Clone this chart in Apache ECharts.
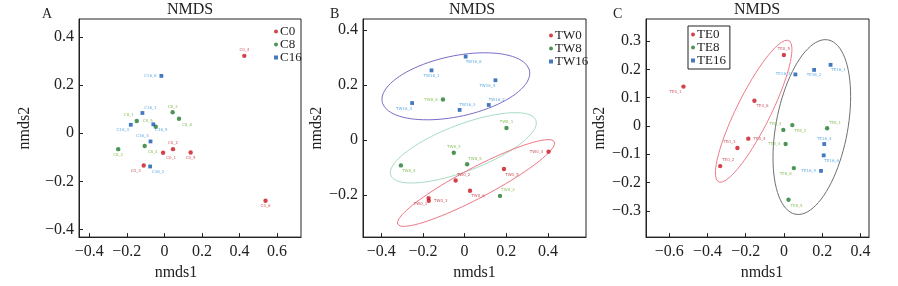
<!DOCTYPE html>
<html>
<head>
<meta charset="utf-8">
<script src="https://cdn.jsdelivr.net/npm/echarts@6/dist/echarts.min.js"></script>
<style>
    html, body {margin: 0; padding: 0; background: #fff;}
    #chart {width: 898px; height: 286px;}
</style>
</head>
<body>
<div id="chart"></div>
<script>
// ---- data: [nmds1, nmds2, sample] ----
var C0  = [[-0.007, -0.081, 'C0_1'], [0.046, -0.066, 'C0_2'], [-0.110, -0.134, 'C0_3'],
           [0.426, 0.321, 'C0_4'], [0.140, -0.080, 'C0_5'], [0.539, -0.280, 'C0_6']];
var C8  = [[-0.147, 0.051, 'C8_1'], [-0.246, -0.066, 'C8_2'], [0.044, 0.087, 'C8_3'],
           [-0.105, -0.053, 'C8_4'], [-0.046, 0.027, 'C8_5'], [0.078, 0.060, 'C8_6']];
var C16 = [[-0.117, 0.084, 'C16_1'], [-0.076, -0.138, 'C16_2'], [-0.179, 0.035, 'C16_3'],
           [-0.074, -0.034, 'C16_4'], [-0.059, 0.037, 'C16_5'], [-0.016, 0.238, 'C16_6']];

var TW0  = [[-0.173, -0.211, 'TW0_1'], [-0.043, -0.147, 'TW0_2'], [-0.172, -0.221, 'TW0_3'],
            [0.403, -0.042, 'TW0_4'], [0.189, -0.105, 'TW0_5'], [0.026, -0.184, 'TW0_6']];
var TW8  = [[0.201, 0.044, 'TW8_1'], [0.170, -0.203, 'TW8_2'], [-0.052, -0.046, 'TW8_3'],
            [-0.306, -0.092, 'TW8_4'], [0.012, -0.088, 'TW8_5'], [-0.104, 0.148, 'TW8_6']];
var TW16 = [[-0.159, 0.254, 'TW16_1'], [0.116, 0.128, 'TW16_2'], [-0.024, 0.110, 'TW16_3'],
            [-0.252, 0.135, 'TW16_4'], [0.148, 0.218, 'TW16_5'], [0.005, 0.304, 'TW16_6']];

var TE0  = [[-0.525, 0.139, 'TE0_1'], [-0.333, -0.142, 'TE0_2'], [-0.243, -0.078, 'TE0_3'],
            [-0.186, -0.045, 'TE0_4'], [0.000, 0.251, 'TE0_5'], [-0.154, 0.089, 'TE0_6']];
var TE8  = [[0.226, -0.008, 'TE8_1'], [0.044, 0.003, 'TE8_2'], [-0.003, -0.014, 'TE8_3'],
            [0.009, -0.064, 'TE8_4'], [0.024, -0.261, 'TE8_5'], [0.052, -0.149, 'TE8_6']];
var TE16 = [[0.244, 0.216, 'TE16_1'], [0.158, 0.198, 'TE16_2'], [0.060, 0.182, 'TE16_3'],
            [0.211, -0.064, 'TE16_4'], [0.194, -0.159, 'TE16_5'], [0.208, -0.104, 'TE16_6']];

// confidence ellipses: [cx, cy, sd1, sd2, r]
var ellTW16 = [-0.042, 0.196, 0.355, 0.122, 0.39];
var ellTW8  = [-0.006, -0.028, 0.351, 0.128, 0.71];
var ellTW0  = [0.055, -0.156, 0.378, 0.158, 0.92];
var ellTE0  = [-0.158, 0.052, 0.200, 0.251, 0.87];
var ellTE8  = [0.146, -0.004, 0.203, 0.309, 0.35];

// tick values
var ticksAx = [-0.4, -0.2, 0, 0.2, 0.4, 0.6];
var ticksAy = [-0.4, -0.2, 0, 0.2, 0.4];
var ticksBx = [-0.4, -0.2, 0, 0.2, 0.4];
var ticksBy = [-0.2, 0, 0.2, 0.4];
var ticksCx = [-0.6, -0.4, -0.2, 0, 0.2, 0.4];
var ticksCy = [-0.3, -0.2, -0.1, 0, 0.1, 0.2, 0.3];

// label placement of each sample (style only)
var labelPlace = {
    C0_1: 'br', C0_2: 'top', C0_3: 'bl', C0_4: 'top', C0_5: 'bottom', C0_6: 'bottom',
    C8_1: 'tl', C8_2: 'bottom', C8_3: 'top', C8_4: 'br', C8_5: 'tl', C8_6: 'br',
    C16_1: 'tr', C16_2: 'br', C16_3: 'bl', C16_4: 'tl', C16_5: 'br', C16_6: 'left',
    TW0_1: 'bl', TW0_2: 'tr', TW0_3: 'right', TW0_4: 'left', TW0_5: 'br', TW0_6: 'br',
    TW8_1: 'top', TW8_2: 'tr', TW8_3: 'top', TW8_4: 'br', TW8_5: 'tr', TW8_6: 'left',
    TW16_1: 'bottom', TW16_2: 'tr', TW16_3: 'tr', TW16_4: 'bl', TW16_5: 'bl', TW16_6: 'br',
    TE0_1: 'bl', TE0_2: 'tr', TE0_3: 'tl', TE0_4: 'right', TE0_5: 'top', TE0_6: 'br',
    TE8_1: 'tr', TE8_2: 'br', TE8_3: 'tl', TE8_4: 'left', TE8_5: 'br', TE8_6: 'bl',
    TE16_1: 'br', TE16_2: 'bottom', TE16_3: 'left', TE16_4: 'top', TE16_5: 'left', TE16_6: 'br'
};

var SERIF = 'Liberation Serif';
var RED = '#c8141e', GREEN = '#1f7a2a', BLUE = '#1558b0';
var RED_T = '#c0303c', GREEN_T = '#74b43c', BLUE_T = '#3b98dc';

function fmt(v) {
    return v < 0 ? '\u2212' + Math.abs(v) : String(v);
}

function toItems(arr) {
    return arr.map(function (p) {
        var pl = labelPlace[p[2]] || 'top';
        var pos = 'top', off = [0, 0], dist = 1.5;
        if (pl === 'bottom') pos = 'bottom';
        if (pl === 'left') {pos = 'left'; dist = 3;}
        if (pl === 'right') {pos = 'right'; dist = 3;}
        if (pl === 'tl') {off = [-8, 0];}
        if (pl === 'tr') {off = [8, 0];}
        if (pl === 'bl') {pos = 'bottom'; off = [-8, 0];}
        if (pl === 'br') {pos = 'bottom'; off = [8, 0];}
        return {value: [p[0], p[1]], name: p[2], label: {position: pos, offset: off, distance: dist}};
    });
}

function ellipse(e) {
    var pts = [];
    for (var i = 0; i <= 90; i++) {
        var t = i / 90 * Math.PI * 2;
        pts.push([e[0] + e[2] * Math.cos(t),
                  e[1] + e[4] * e[3] * Math.cos(t) + e[3] * Math.sqrt(1 - e[4] * e[4]) * Math.sin(t)]);
    }
    return pts;
}

function pts(name, arr, idx, sym, color, tcolor) {
    return {
        name: name, type: 'scatter', xAxisIndex: idx, yAxisIndex: idx,
        symbol: sym, symbolSize: sym === 'rect' ? 3.8 : 4.4,
        itemStyle: {color: color},
        label: {show: true, formatter: '{b}', fontSize: 4, color: tcolor, fontFamily: 'DejaVu Sans'},
        data: toItems(arr), z: 5
    };
}

function ell(name, e, idx, color) {
    return {
        name: name, type: 'line', xAxisIndex: idx, yAxisIndex: idx,
        showSymbol: false, silent: true, smooth: false,
        lineStyle: {color: color, width: 1},
        data: ellipse(e), z: 2
    };
}

function xAx(idx, min, max, ticks, gap, pad) {
    return {
        type: 'value', gridIndex: idx, min: min, max: max,
        name: 'nmds1', nameLocation: 'middle', nameGap: gap,
        nameTextStyle: {fontFamily: SERIF, fontSize: 16, color: '#222', padding: pad || 0},
        axisLine: {onZero: false, lineStyle: {color: '#222'}},
        axisTick: {inside: true, length: 4, customValues: ticks, lineStyle: {color: '#222'}},
        axisLabel: {customValues: ticks, formatter: fmt, fontFamily: SERIF, fontSize: 16, color: '#222', margin: 7},
        splitLine: {show: false}
    };
}

function yAx(idx, min, max, ticks, gap) {
    return {
        type: 'value', gridIndex: idx, min: min, max: max,
        name: 'nmds2', nameLocation: 'middle', nameGap: gap,
        nameTextStyle: {fontFamily: SERIF, fontSize: 16, color: '#222'},
        axisLine: {onZero: false, lineStyle: {color: '#222'}},
        axisTick: {inside: true, length: 4, customValues: ticks, lineStyle: {color: '#222'}},
        axisLabel: {customValues: ticks, formatter: fmt, fontFamily: SERIF, fontSize: 16, color: '#222', margin: 5},
        splitLine: {show: false}
    };
}

function txt(s, x, y, size, align) {
    return {
        type: 'text', x: x, y: y,
        style: {text: s, font: size + 'px "' + SERIF + '"', fill: '#222',
                align: align, verticalAlign: 'middle', textAlign: align, textVerticalAlign: 'middle'}
    };
}

var legendBase = {
    orient: 'vertical', itemWidth: 4, itemHeight: 4, itemGap: 0,
    textStyle: {fontFamily: SERIF, fontSize: 13, color: '#222', lineHeight: 11.5, padding: [0, 0, 0, -3]}
};

var option = {
    animation: false,
    backgroundColor: '#fff',
    grid: [
        {left: 79, top: 19, width: 222, height: 222, show: true, borderColor: '#222', borderWidth: 1},
        {left: 363, top: 19, width: 223, height: 222, show: true, borderColor: '#222', borderWidth: 1},
        {left: 646, top: 19, width: 223, height: 222, show: true, borderColor: '#222', borderWidth: 1}
    ],
    xAxis: [
        xAx(0, -0.455, 0.728, ticksAx, 22, [0, 28, 0, 0]),
        xAx(1, -0.488, 0.583, ticksBx, 22),
        xAx(2, -0.721, 0.445, ticksCx, 22, [0, 0, 0, 9])
    ],
    yAxis: [
        yAx(0, -0.431, 0.474, ticksAy, 46),
        yAx(1, -0.353, 0.441, ticksBy, 37),
        yAx(2, -0.393, 0.378, ticksCy, 36)
    ],
    legend: [
        Object.assign({}, legendBase, {left: 269, top: 20, data: ['C0', 'C8', 'C16']}),
        Object.assign({}, legendBase, {left: 544, top: 24, data: ['TW0', 'TW8', 'TW16']}),
        Object.assign({}, legendBase, {left: 688, top: 26, padding: [2, 4, 2, 3],
            borderColor: '#222', borderWidth: 1, data: ['TE0', 'TE8', 'TE16']})
    ],
    graphic: [
        txt('NMDS', 190, 9.5, 16, 'center'),
        txt('NMDS', 472, 9.5, 16, 'center'),
        txt('NMDS', 757, 9.5, 16, 'center'),
        txt('A', 42, 14.5, 14, 'left'),
        txt('B', 330, 14.5, 14, 'left'),
        txt('C', 613, 14.5, 14, 'left')
    ],
    series: [
        pts('C0', C0, 0, 'circle', RED, RED_T),
        pts('C8', C8, 0, 'circle', GREEN, GREEN_T),
        pts('C16', C16, 0, 'rect', BLUE, BLUE_T),

        ell('eTW16', ellTW16, 1, '#7a6cc6'),
        ell('eTW8', ellTW8, 1, '#a8dcc4'),
        ell('eTW0', ellTW0, 1, '#ee7585'),
        pts('TW0', TW0, 1, 'circle', RED, RED_T),
        pts('TW8', TW8, 1, 'circle', GREEN, GREEN_T),
        pts('TW16', TW16, 1, 'rect', BLUE, BLUE_T),

        ell('eTE0', ellTE0, 2, '#ee7a8a'),
        ell('eTE8', ellTE8, 2, '#707070'),
        pts('TE0', TE0, 2, 'circle', RED, RED_T),
        pts('TE8', TE8, 2, 'circle', GREEN, GREEN_T),
        pts('TE16', TE16, 2, 'rect', BLUE, BLUE_T)
    ]
};

var myChart = echarts.init(document.getElementById('chart'));
myChart.setOption(option);
</script>
</body>
</html>
